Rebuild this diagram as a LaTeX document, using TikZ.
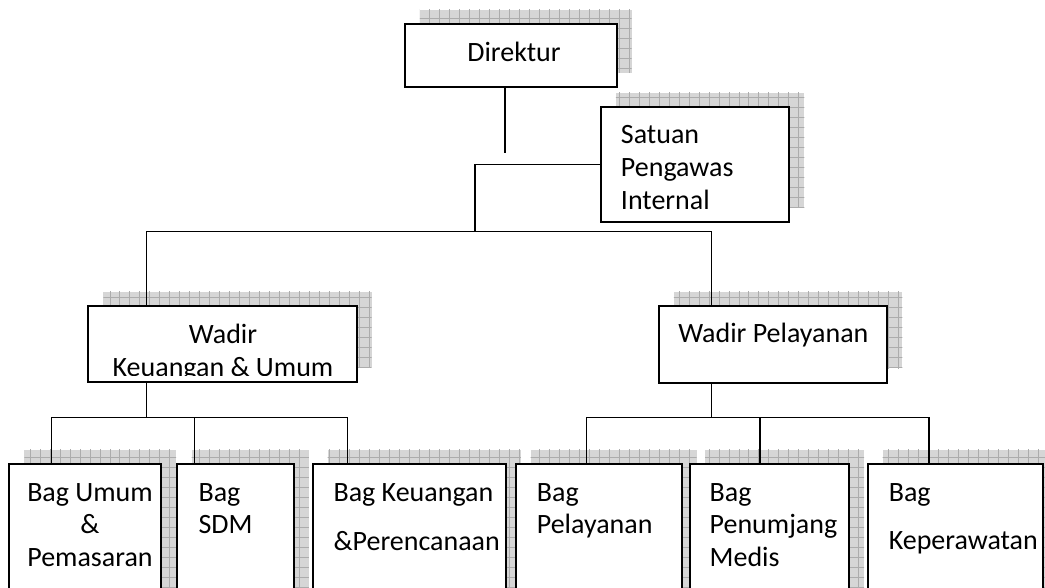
\documentclass[tikz,border=0pt]{standalone}
\usepackage{fontspec}
\setmainfont{Carlito}
\usetikzlibrary{shadows,patterns}

\pgfdeclarepatternformonly{shadowgrid}{\pgfqpoint{-.5pt}{-.5pt}}{\pgfqpoint{7.6pt}{7.6pt}}{\pgfqpoint{7.1pt}{7.1pt}}{%
  \pgfsetlinewidth{0.45pt}%
  \pgfpathmoveto{\pgfqpoint{0pt}{0pt}}\pgfpathlineto{\pgfqpoint{7.1pt}{0pt}}%
  \pgfpathmoveto{\pgfqpoint{0pt}{0pt}}\pgfpathlineto{\pgfqpoint{0pt}{7.1pt}}%
  \pgfusepath{stroke}}

\tikzstyle{box} = [rectangle, draw, line width=1.4pt, fill=white, inner sep=0pt,
  general shadow={shadow xshift=.375cm, shadow yshift=.36cm, fill=gray!32},
  general shadow={shadow xshift=.375cm, shadow yshift=.36cm, pattern=shadowgrid, pattern color=gray!65}]
\tikzstyle{boxtext} = [inner sep=0pt, font=\fontsize{19.9}{23.4}\selectfont]
\tikzstyle{wire} = [line width=1.1pt]

\begin{document}
\begin{tikzpicture}[x=0.025cm, y=-0.025cm]
      \useasboundingbox (0,0) rectangle (1045,587);
      \clip (0,0) rectangle (1045,587);

      % boxes
      \node[box, minimum width=5.29cm, minimum height=1.575cm] (dir) at (510.8,55.8) {};
      \node[box, minimum width=4.71cm, minimum height=2.86cm] (spi) at (695.2,164.5) {};
      \node[box, minimum width=6.71cm, minimum height=1.89cm] (wku) at (222.5,343.9) {};
      \node[box, minimum width=5.71cm, minimum height=1.92cm] (wpl) at (773.2,344.4) {};

      \node[box, minimum width=3.79cm, minimum height=3.9cm] (umum) at (85.2,542) {};
      \node[box, minimum width=2.93cm, minimum height=3.9cm] (sdm) at (235.3,542) {};
      \node[box, minimum width=4.83cm, minimum height=3.9cm] (keu) at (409.2,542) {};
      \node[box, minimum width=4.15cm, minimum height=3.9cm] (pel) at (598.6,542) {};
      \node[box, minimum width=3.97cm, minimum height=3.9cm] (pen) at (769.6,542) {};
      \node[box, minimum width=4.375cm, minimum height=3.9cm] (kep) at (955.2,542) {};

      % texts
      \node[boxtext, anchor=base] (dir-t) at (514,61.7) {Direktur};
      \node[boxtext, anchor=base west, text width=4cm, align=flush left] (spi-t) at (620.7,143.3) {Satuan\\Pengawas\\Internal};
      \coordinate (kucut) at (360,375.5);
      \begin{scope}
        \clip (wku.north west) rectangle (kucut);
        \node[boxtext, anchor=base, text width=6cm, align=flush center] (wku-t) at (223,343.3) {Wadir\\Keuangan \& Umum};
      \end{scope}
      \node[boxtext, anchor=base] (wpl-t) at (773.3,342.7) {Wadir Pelayanan};

      \node[boxtext, anchor=base, text width=3.5cm, align=flush center] (umum-t) at (90,501) {Bag Umum\\\&\\Pemasaran};
      \node[boxtext, anchor=base west, text width=2.5cm, align=flush left] (sdm-t) at (198.3,501) {Bag\\SDM};
      \node[boxtext, anchor=base west, text width=4.5cm, align=flush left] (keu-t) at (333.3,501) {Bag Keuangan\\[0.42cm]\&Perencanaan};
      \node[boxtext, anchor=base west, text width=3.5cm, align=flush left] (pel-t) at (536.6,501) {Bag\\Pelayanan};
      \node[boxtext, anchor=base west, text width=3.5cm, align=flush left] (pen-t) at (709.4,501) {Bag\\Penumjang\\Medis};
      \node[boxtext, anchor=base west, text width=4cm, align=flush left] (kep-t) at (888.5,501) {Bag\\[0.4cm]Keperawatan};

      % connectors
      \coordinate (dirend) at (505,153);
      \coordinate (hub) at (475,231.7);
      \coordinate (kuturn) at (146.7,231.7);
      \coordinate (plturn) at (711.7,231.7);
      \draw[wire] (dirend |- dir.south) -- (dirend);
      \draw[wire] (spi.west) -| (hub);
      \draw[wire] (kuturn |- wku.north) -- (kuturn) -- (plturn) -- (plturn |- wpl.north);

      \coordinate (kudown) at (146.7,417.3);
      \coordinate (umumturn) at (51.7,417.3);
      \coordinate (sdmturn) at (194.3,417.3);
      \coordinate (keuturn) at (347.3,417.3);
      \draw[wire] (kudown |- wku.south) -- (kudown);
      \draw[wire] (umumturn) -- (keuturn);

      \coordinate (pldown) at (711.7,417.3);
      \coordinate (pelturn) at (586.6,417.3);
      \coordinate (penturn) at (760,417.3);
      \coordinate (kepturn) at (929,417.3);
      \draw[wire] (pldown |- wpl.south) -- (pldown);
      \draw[wire] (pelturn) -- (kepturn);

      \foreach \c/\n in {umumturn/umum, sdmturn/sdm, keuturn/keu, pelturn/pel, penturn/pen, kepturn/kep}
        \draw[wire] (\c) -- (\c |- \n.north);
\end{tikzpicture}
\end{document}
